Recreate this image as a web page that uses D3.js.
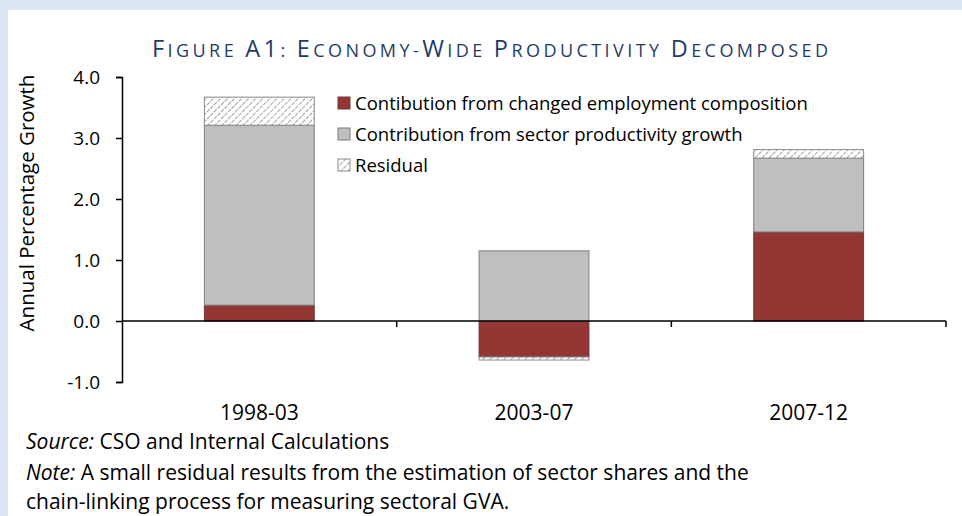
<!DOCTYPE html>
<html>
<head>
<meta charset="utf-8">
<script src="https://cdn.jsdelivr.net/npm/d3@7"></script>
<style>
  body { margin: 0; background: #dce6f2; }
  svg { display: block; }
  text { font-family: "Open Sans", sans-serif; fill: #000; }
</style>
</head>
<body>
<div id="viz"></div>
<script>
var width = 962;
var height = 516;

// data
var periods = ["1998-03", "2003-07", "2007-12"];
var employment = [0.26, -0.59, 1.46];
var sector = [2.95, 1.15, 1.21];
var residual = [0.46, -0.05, 0.14];
var seriesNames = ["Contibution from changed employment composition",
                   "Contribution from sector productivity growth",
                   "Residual"];
var yTicks = [-1, 0, 1, 2, 3, 4];
var titleText = "Figure A1: Economy-Wide Productivity Decomposed";

var rows = periods.map(function(p, i) {
  return {period: p, emp: employment[i], sec: sector[i], res: residual[i]};
});

var svg = d3.select("#viz").append("svg")
    .attr("width", width)
    .attr("height", height);

// white panel on the blue page
svg.append("rect")
    .attr("x", 8).attr("y", 10)
    .attr("width", width - 8).attr("height", height - 10)
    .attr("fill", "#fff");

var defs = svg.append("defs");
var pat = defs.append("pattern")
    .attr("id", "hatch")
    .attr("patternUnits", "userSpaceOnUse")
    .attr("width", 5).attr("height", 5)
    .attr("patternTransform", "rotate(45)");
pat.append("rect").attr("width", 5).attr("height", 5).attr("fill", "#fff");
pat.append("line")
    .attr("x1", 0).attr("y1", 0).attr("x2", 0).attr("y2", 5)
    .attr("stroke", "#666").attr("stroke-width", 1.2)
    .attr("stroke-dasharray", "3,1");

var plotL = 122, plotR = 946, plotT = 77, plotB = 382;

var x = d3.scaleBand()
    .domain(periods)
    .range([plotL, plotR])
    .paddingInner(0.6)
    .paddingOuter(0.3);

var y = d3.scaleLinear()
    .domain([-1, 4])
    .range([plotB, plotT]);

var keys = ["emp", "sec", "res"];
var fills = {emp: "#943634", sec: "#bfbfbf", res: "url(#hatch)"};
var strokes = {emp: "#6b3a39", sec: "#7f7f7f", res: "#8c8c8c"};

var stack = d3.stack().keys(keys).offset(d3.stackOffsetDiverging);
var layers = stack(rows);

// title, hand-made small caps: capitals and digits big, the rest small
var title = svg.append("text")
    .attr("x", 152).attr("y", 57)
    .attr("textLength", 676)
    .attr("lengthAdjust", "spacing")
    .style("fill", "#1f3d66");
titleText.split("").forEach(function(c) {
  var big = /[A-Z0-9]/.test(c);
  title.append("tspan")
      .style("font-size", big ? "23.5px" : "18px")
      .text(c.toUpperCase());
});

// bars
svg.selectAll(".layer")
    .data(layers)
  .enter().append("g")
    .attr("class", "layer")
  .selectAll("rect")
    .data(function(d) { return d.map(function(v) { return {key: d.key, v: v}; }); })
  .enter().append("rect")
    .attr("x", function(d) { return x(d.v.data.period); })
    .attr("width", x.bandwidth())
    .attr("y", function(d) { return y(Math.max(d.v[0], d.v[1])); })
    .attr("height", function(d) { return Math.abs(y(d.v[0]) - y(d.v[1])); })
    .attr("fill", function(d) { return fills[d.key]; })
    .attr("stroke", function(d) { return strokes[d.key]; })
    .attr("stroke-width", 1);

// y axis
var yAxis = svg.append("g")
    .attr("transform", "translate(" + plotL + ",0)")
    .call(d3.axisLeft(y)
      .tickValues(yTicks)
      .tickSize(6)
      .tickPadding(16)
      .tickFormat(function(d) { return d.toFixed(1); }));
yAxis.select(".domain").attr("stroke", "#000").attr("stroke-width", 1.5);
yAxis.selectAll(".tick line").attr("stroke", "#000").attr("stroke-width", 1.5);
yAxis.selectAll(".tick text")
    .style("font-family", "'Open Sans', sans-serif")
    .style("font-size", "19px")
    .attr("fill", "#000");

// x axis line at zero with category boundary ticks
svg.append("line")
    .attr("x1", plotL).attr("x2", plotR)
    .attr("y1", y(0)).attr("y2", y(0))
    .attr("stroke", "#000").attr("stroke-width", 1.5);
periods.forEach(function(p) {
  var bx = x(p) + x.bandwidth() / 2 + x.step() / 2;
  svg.append("line")
      .attr("x1", bx).attr("x2", bx)
      .attr("y1", y(0)).attr("y2", y(0) + 6)
      .attr("stroke", "#000").attr("stroke-width", 1.5);
});

svg.selectAll(".xlab")
    .data(periods)
  .enter().append("text")
    .attr("class", "xlab")
    .attr("x", function(d) { return x(d) + x.bandwidth() / 2; })
    .attr("y", 420)
    .attr("text-anchor", "middle")
    .style("font-size", "21px")
    .text(function(d) { return d; });

// y label
svg.append("text")
    .attr("transform", "translate(34,203) rotate(-90)")
    .attr("text-anchor", "middle")
    .style("font-size", "20.5px")
    .text("Annual Percentage Growth");

// legend
var legend = svg.selectAll(".leg")
    .data(keys)
  .enter().append("g")
    .attr("class", "leg")
    .attr("transform", function(d, i) { return "translate(338," + (97 + i * 31) + ")"; });
legend.append("rect")
    .attr("width", 12).attr("height", 12)
    .attr("fill", function(d) { return fills[d]; })
    .attr("stroke", function(d) { return strokes[d]; });
legend.append("text")
    .attr("x", 17).attr("y", 12.5)
    .style("font-size", "18.5px")
    .text(function(d, i) { return seriesNames[i]; });

// notes
var src = svg.append("text").attr("x", 26).attr("y", 449).style("font-size", "21px");
src.append("tspan").style("font-style", "italic").text("Source:");
src.append("tspan").text(" CSO and Internal Calculations");
var note = svg.append("text").attr("x", 26).attr("y", 480).style("font-size", "21px");
note.append("tspan").style("font-style", "italic").text("Note:");
note.append("tspan").text(" A small residual results from the estimation of sector shares and the");
svg.append("text").attr("x", 26).attr("y", 509).style("font-size", "21px")
    .text("chain-linking process for measuring sectoral GVA.");
</script>
</body>
</html>
